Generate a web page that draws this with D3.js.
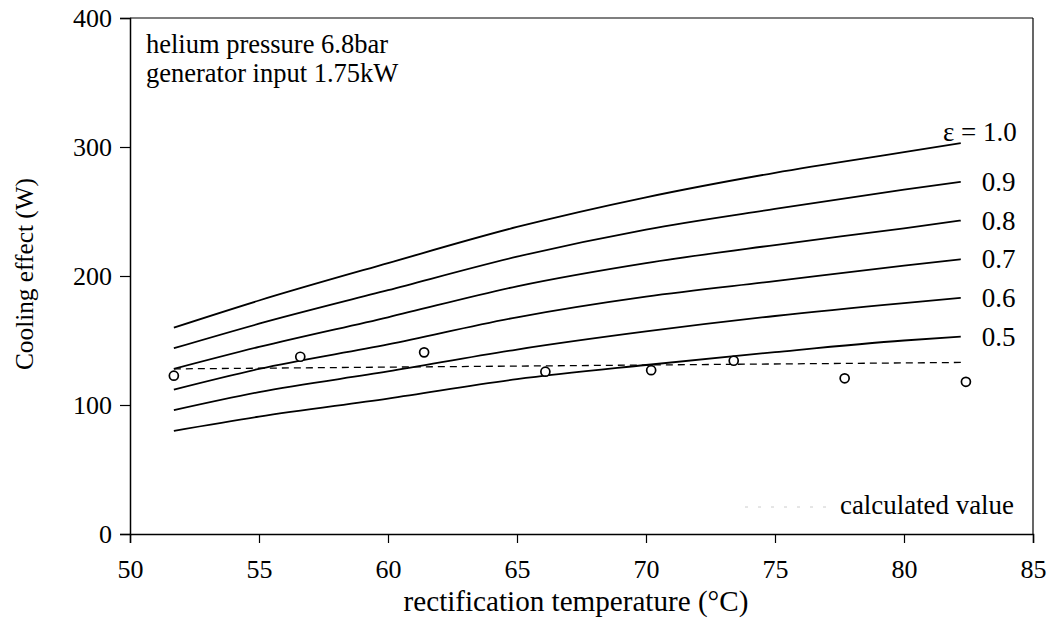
<!DOCTYPE html>
<html>
<head>
<meta charset="utf-8">
<script src="https://cdn.jsdelivr.net/npm/d3@7"></script>
<style>
  html, body { margin: 0; padding: 0; background: #fff; }
  svg text { font-family: "Liberation Serif", "Times New Roman", serif; fill: #000; }
</style>
</head>
<body>
<svg id="chart" width="1056" height="629"></svg>
<script>
// ---- data ----
const temps = [51.7, 55, 60, 65, 70, 75, 80, 82.2];
const eps10 = [160, 181, 210, 238, 261, 280, 296, 303];
const eps09 = [144, 163, 189, 215, 236, 252, 267, 273];
const eps08 = [128, 145, 168, 192, 210, 224, 237, 243];
const eps07 = [112, 128, 147, 168, 184, 196, 208, 213];
const eps06 = [96, 110, 126, 143, 157, 169, 179, 183];
const eps05 = [80, 91, 105, 120, 131, 141, 150, 153];
const curveLabels = ["\u03b5 = 1.0", "0.9", "0.8", "0.7", "0.6", "0.5"];

const calcTemps = [51.7, 82.3];
const calcValues = [128, 133];

const measTemps = [51.7, 56.6, 61.4, 66.1, 70.2, 73.4, 77.7, 82.4];
const measValues = [122.7, 137.4, 140.8, 125.8, 127, 134.3, 120.7, 118];

const xTicks = [50, 55, 60, 65, 70, 75, 80, 85];
const yTicks = [0, 100, 200, 300, 400];

const annotation = ["helium pressure 6.8bar", "generator input 1.75kW"];
const xTitle = "rectification temperature (\u00b0C)";
const yTitle = "Cooling effect (W)";
const legendText = "calculated value";

// ---- layout ----
const svg = d3.select("#chart");
const L = 130, R = 1033, T = 18, B = 534;
const x = d3.scaleLinear().domain([50, 85]).range([L, R]);
const y = d3.scaleLinear().domain([0, 400]).range([B, T]);

function fit(sel, w) {
  const n = sel.node();
  const fs = parseFloat(sel.attr("font-size"));
  const cur = n.getComputedTextLength();
  sel.attr("font-size", (fs * w / cur).toFixed(2));
}

// frame (top & right)
svg.append("line").attr("x1", L).attr("x2", R).attr("y1", T).attr("y2", T)
  .attr("stroke", "#000").attr("stroke-width", 1.2);
svg.append("line").attr("x1", R).attr("x2", R).attr("y1", T).attr("y2", B)
  .attr("stroke", "#000").attr("stroke-width", 1.2);

// axes
const xAxis = svg.append("g").attr("transform", `translate(0,${B})`)
  .call(d3.axisBottom(x).tickValues(xTicks).tickSize(9).tickPadding(12).tickFormat(d3.format("d")));
const yAxis = svg.append("g").attr("transform", `translate(${L},0)`)
  .call(d3.axisLeft(y).tickValues(yTicks).tickSize(10).tickPadding(8).tickFormat(d3.format("d")));
[xAxis, yAxis].forEach(g => {
  g.select(".domain").attr("stroke", "#000").attr("stroke-width", 1.5);
  g.selectAll(".tick line").attr("stroke", "#000").attr("stroke-width", 1.2);
  g.selectAll(".tick text").attr("font-family", "Liberation Serif").attr("font-size", 26).attr("fill", "#000");
});
xAxis.selectAll(".tick text").attr("dy", "0.88em");
yAxis.selectAll(".tick text").attr("dy", "0.34em");

// curves
const series = [eps10, eps09, eps08, eps07, eps06, eps05];
const line = d3.line().x(d => x(d[0])).y(d => y(d[1])).curve(d3.curveMonotoneX);
series.forEach((vals, i) => {
  const pts = temps.map((t, j) => [t, vals[j]]);
  svg.append("path").attr("d", line(pts)).attr("fill", "none")
    .attr("stroke", "#000").attr("stroke-width", 1.8);
  const last = pts[pts.length - 1];
  svg.append("text")
    .attr("x", i === 0 ? x(last[0]) + 56 : x(last[0]) + 21)
    .attr("y", y(last[1]) + (i === 0 ? -11 : 0))
    .attr("dy", "0.34em")
    .attr("text-anchor", i === 0 ? "end" : "start")
    .attr("font-size", 27).text(curveLabels[i]);
});

// calculated value dashed line
svg.append("path")
  .attr("d", d3.line().x(d => x(d[0])).y(d => y(d[1]))(calcTemps.map((t, j) => [t, calcValues[j]])))
  .attr("fill", "none").attr("stroke", "#000").attr("stroke-width", 1.3)
  .attr("stroke-dasharray", "7,5");

// measured points
svg.append("g").selectAll("circle").data(measTemps.map((t, j) => [t, measValues[j]]))
  .join("circle").attr("cx", d => x(d[0])).attr("cy", d => y(d[1])).attr("r", 4.5)
  .attr("fill", "#fff").attr("stroke", "#000").attr("stroke-width", 1.7);

// annotation
let annSize = 24;
annotation.forEach((s, i) => {
  const t = svg.append("text").attr("x", 146).attr("y", 53 + i * 28.5)
    .attr("font-size", annSize).text(s);
  if (i === 0) { fit(t, 242); annSize = t.attr("font-size"); }
});

// legend
svg.append("line").attr("x1", 745).attr("x2", 828).attr("y1", 507).attr("y2", 507)
  .attr("stroke", "#ccc").attr("stroke-width", 1).attr("stroke-dasharray", "3,10");
const lg = svg.append("text").attr("x", 840).attr("y", 514).attr("font-size", 24).text(legendText);
fit(lg, 174);

// axis titles
const xt = svg.append("text").attr("x", 576).attr("y", 611).attr("text-anchor", "middle")
  .attr("font-size", 24).text(xTitle);
fit(xt, 345);
const yt = svg.append("text").attr("transform", "translate(33,274) rotate(-90)")
  .attr("text-anchor", "middle").attr("font-size", 24).text(yTitle);
fit(yt, 192);
</script>
</body>
</html>
